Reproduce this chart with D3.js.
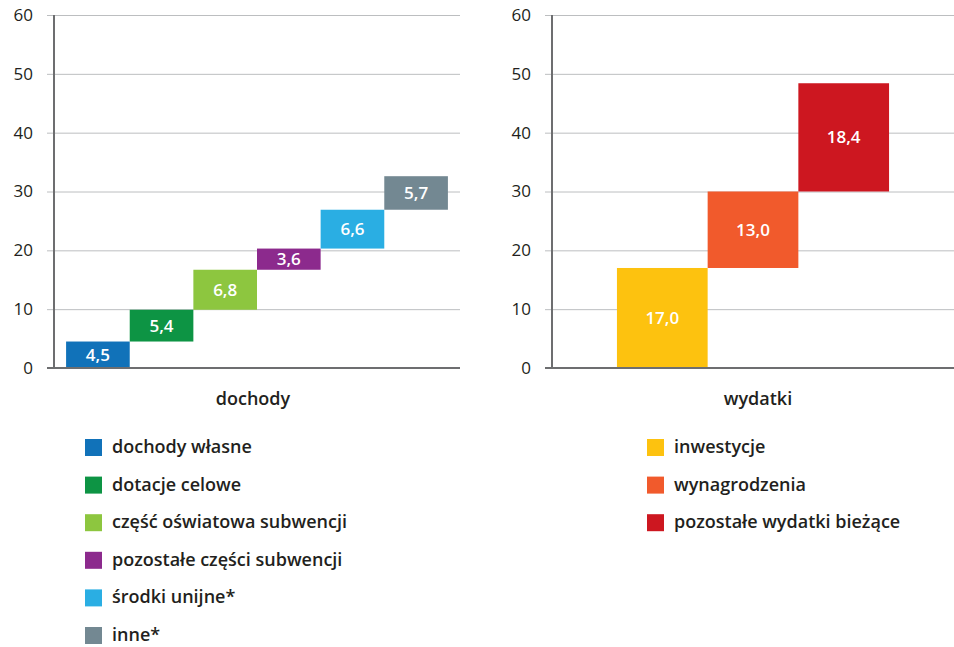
<!DOCTYPE html>
<html>
<head>
<meta charset="utf-8">
<script src="https://cdn.jsdelivr.net/npm/d3@7"></script>
<style>
  body { margin: 0; background: #fff; }
  svg { display: block; font-family: "Open Sans", sans-serif; }
</style>
</head>
<body>
<div id="chart"></div>
<script>
// data
var incomeCats = ["dochody własne", "dotacje celowe", "część oświatowa subwencji",
                  "pozostałe części subwencji", "środki unijne*", "inne*"];
var incomeVals = [4.5, 5.4, 6.8, 3.6, 6.6, 5.7];
var incomeColors = ["#1172b9", "#0d9444", "#8dc63f", "#8c2a8d", "#2aaee3", "#738892"];

var expenseCats = ["inwestycje", "wynagrodzenia", "pozostałe wydatki bieżące"];
var expenseVals = [17.0, 13.0, 18.4];
var expenseColors = ["#fdc20f", "#f15a2c", "#cd1720"];

var yTicks = [0, 10, 20, 30, 40, 50, 60];
var groupTitles = ["dochody", "wydatki"];

var width = 954, height = 647;
var textColor = "#231f20", axisColor = "#6d6e70", gridColor = "#bcbec0";

var fmt = d3.formatLocale({ decimal: ",", thousands: " ", grouping: [3], currency: ["", ""] }).format(".1f");

var svg = d3.select("#chart").append("svg")
    .attr("width", width)
    .attr("height", height);

// shared vertical scale
var y = d3.scaleLinear().domain([0, 60]).range([368, 15]);

// draw one stepped (waterfall) panel
function drawPanel(opts) {
    var g = svg.append("g");

    // cumulative starts for the floating bars
    var starts = [];
    var acc = 0;
    opts.vals.forEach(function(v) { starts.push(acc); acc += v; });

    var x = d3.scaleBand()
        .domain(opts.cats)
        .range([opts.left, opts.right])
        .paddingInner(0)
        .paddingOuter(opts.pad);

    // gridlines + tick labels
    var axis = d3.axisLeft(y)
        .tickValues(yTicks)
        .tickSize(-(opts.right - opts.left + 7))
        .tickPadding(14)
        .tickFormat(d3.format("d"));

    var ax = g.append("g")
        .attr("transform", "translate(" + (opts.left - 7) + ",0)")
        .call(axis);
    ax.select(".domain").remove();
    ax.selectAll(".tick line").attr("stroke", gridColor).attr("stroke-width", 1);
    ax.selectAll(".tick text")
        .attr("fill", textColor)
        .style("font-size", "17px")
        .style("font-family", "'Open Sans', sans-serif");

    // bars
    g.selectAll("rect.bar")
        .data(opts.vals)
        .enter().append("rect")
        .attr("class", "bar")
        .attr("x", function(d, i) { return x(opts.cats[i]); })
        .attr("y", function(d, i) { return y(starts[i] + d); })
        .attr("width", x.bandwidth())
        .attr("height", function(d, i) { return y(starts[i]) - y(starts[i] + d); })
        .attr("fill", function(d, i) { return opts.colors[i]; });

    // values inside bars
    g.selectAll("text.val")
        .data(opts.vals)
        .enter().append("text")
        .attr("class", "val")
        .attr("x", function(d, i) { return x(opts.cats[i]) + x.bandwidth() / 2; })
        .attr("y", function(d, i) { return y(starts[i] + d / 2); })
        .attr("dy", "0.36em")
        .attr("text-anchor", "middle")
        .attr("fill", "#fff")
        .style("font-size", "17px")
        .style("font-weight", 600)
        .text(function(d) { return fmt(d); });

    // axis line and baseline
    g.append("line")
        .attr("x1", opts.left).attr("x2", opts.left)
        .attr("y1", y(60)).attr("y2", y(0))
        .attr("stroke", axisColor).attr("stroke-width", 2);
    g.append("line")
        .attr("x1", opts.left - 7).attr("x2", opts.right)
        .attr("y1", y(0)).attr("y2", y(0))
        .attr("stroke", axisColor).attr("stroke-width", 2);

    // group title
    g.append("text")
        .attr("x", opts.titleX)
        .attr("y", 405)
        .attr("text-anchor", "middle")
        .attr("fill", textColor)
        .style("font-size", "18px")
        .style("font-weight", 600)
        .text(opts.title);

    // legend
    var leg = g.selectAll("g.legend")
        .data(opts.cats)
        .enter().append("g")
        .attr("class", "legend")
        .attr("transform", function(d, i) { return "translate(" + opts.legendX + "," + (439 + i * 37.6) + ")"; });
    leg.append("rect")
        .attr("width", 17).attr("height", 17)
        .attr("fill", function(d, i) { return opts.colors[i]; });
    leg.append("text")
        .attr("x", 27)
        .attr("y", 14)
        .attr("fill", textColor)
        .style("font-size", "18px")
        .style("font-weight", 600)
        .text(function(d) { return d; });
}

drawPanel({
    cats: incomeCats, vals: incomeVals, colors: incomeColors,
    left: 54, right: 460, pad: 0.19,
    title: groupTitles[0], titleX: 253, legendX: 85
});

drawPanel({
    cats: expenseCats, vals: expenseVals, colors: expenseColors,
    left: 552, right: 954, pad: 0.716,
    title: groupTitles[1], titleX: 758, legendX: 647
});
</script>
</body>
</html>
